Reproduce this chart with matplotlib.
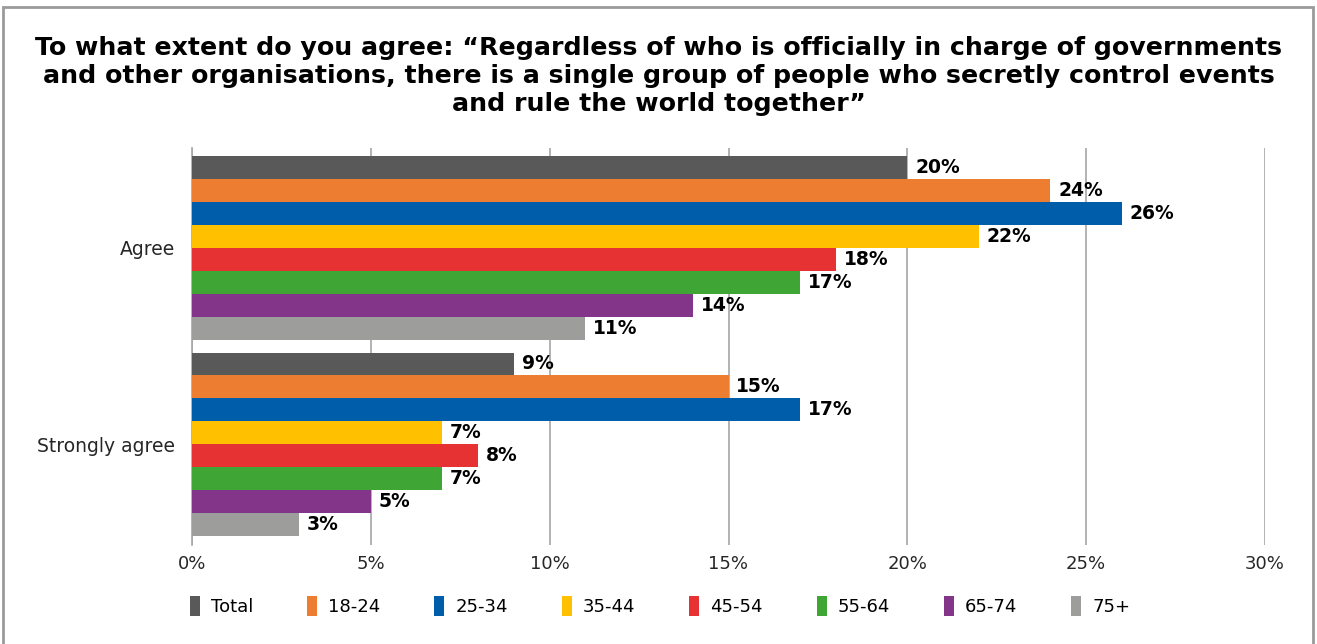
import matplotlib
matplotlib.use("Agg")
import matplotlib.pyplot as plt
from matplotlib.patches import Rectangle
import numpy as np

categories = ["Agree", "Strongly agree"]
series = ["Total", "18-24", "25-34", "35-44", "45-54", "55-64", "65-74", "75+"]
values = {
    "Total": [20, 9],
    "18-24": [24, 15],
    "25-34": [26, 17],
    "35-44": [22, 7],
    "45-54": [18, 8],
    "55-64": [17, 7],
    "65-74": [14, 5],
    "75+": [11, 3],
}
colors = ["#595959", "#ED7D31", "#005DAA", "#FFC000", "#E63233", "#3FA535", "#833689", "#9D9D9C"]
xticks = [0, 5, 10, 15, 20, 25, 30]
title = ("To what extent do you agree: \u201cRegardless of who is officially in charge of governments\n"
         "and other organisations, there is a single group of people who secretly control events\n"
         "and rule the world together\u201d")

plt.rcParams['font.family'] = ['DejaVu Sans']

fig = plt.figure(figsize=(13.17, 6.44), dpi=100)
ax = fig.add_axes([192/1317, 1-545/644, (1265-192)/1317, (545-148)/644])

centers = [1, 0]  # Agree on top
h = 0.1167
for i, s in enumerate(series):
    ys = [c + (3.5 - i) * h for c in centers]
    ax.barh(ys, values[s], height=h, color=colors[i], label=s, zorder=3)
    for y, v in zip(ys, values[s]):
        ax.text(v + 0.22, y, f"{v}%", va="center", ha="left", fontsize=13.5,
                fontweight="bold", color="black", zorder=4)

ax.set_xlim(0, 30)
ax.set_ylim(-0.515, 1.51)
ax.set_xticks(xticks)
ax.set_xticklabels([f"{t}%" for t in xticks], fontsize=13, color="#262626")
ax.set_yticks(centers)
ax.set_yticklabels(categories, fontsize=13.5, color="#262626")
ax.tick_params(length=0)
ax.tick_params(axis="x", pad=7)
ax.tick_params(axis="y", pad=12)
ax.grid(axis="x", color="#a6a6a6", lw=1.2, zorder=0)
for sp in ["top", "right", "bottom"]:
    ax.spines[sp].set_visible(False)
ax.spines["left"].set_color("#a6a6a6")
ax.spines["left"].set_linewidth(1.2)

fig.text(0.5, 1-76/644, title, ha="center", va="center", fontsize=18.2,
         fontweight="bold", linespacing=1.2)

ax.legend(loc="center", bbox_to_anchor=(660/1317, 1-606/644), bbox_transform=fig.transFigure,
          ncol=8, frameon=False, fontsize=13, handlelength=0.55, handleheight=1.3,
          handletextpad=0.6, columnspacing=3.0)

fig.patches.append(Rectangle((3/1317, -0.05), (1313-3)/1317, 1-7/644+0.05,
                             transform=fig.transFigure, fill=False,
                             edgecolor="#9a9a9a", lw=2))

fig.savefig("out.png", dpi=100)
